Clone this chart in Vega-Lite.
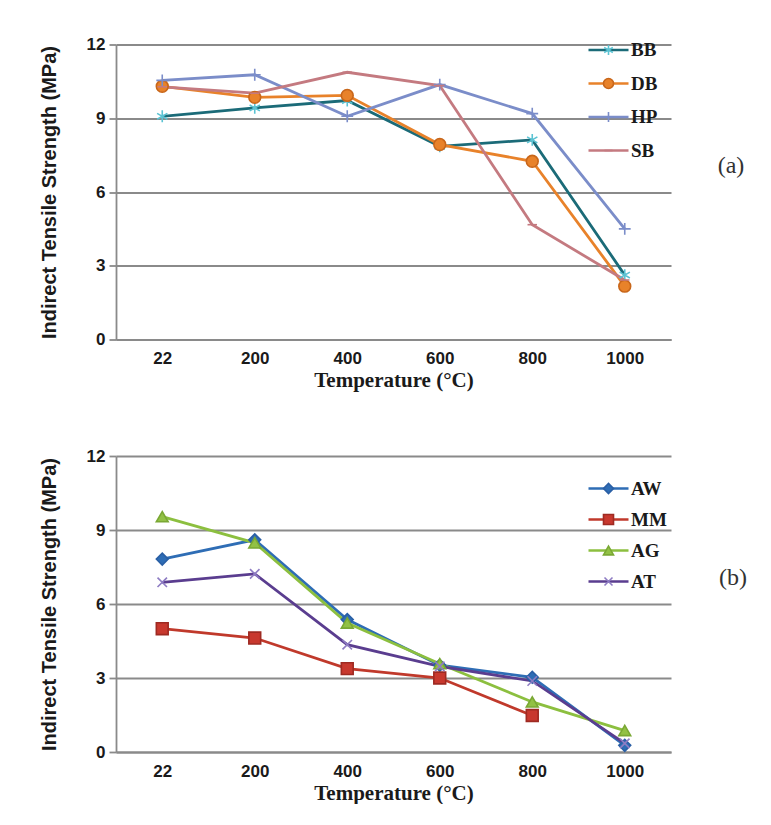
{
  "$schema": "https://vega.github.io/schema/vega-lite/v6.json",
  "padding": {"left": 39, "top": 35.5, "right": 0, "bottom": 0},
  "spacing": 56.5,
  "background": "white",
  "config": {
    "view": {"stroke": null},
    "axis": {
      "domainColor": "#8a8a8a", "domainWidth": 1.8,
      "gridColor": "#8a8a8a", "gridWidth": 1.8,
      "tickColor": "#8a8a8a", "tickWidth": 1.8,
      "labelColor": "#1a1a1a", "titleColor": "#1a1a1a",
      "labelFont": "Liberation Sans", "labelFontWeight": "bold", "labelFontSize": 17
    },
    "axisX": {"ticks": false, "grid": false, "labelPadding": 11, "labelAngle": 0,
      "titleFont": "Liberation Serif", "titleFontSize": 21, "titleFontWeight": "bold", "titlePadding": 3},
    "axisY": {"tickSize": 7, "labelPadding": 4,
      "titleFont": "Liberation Sans", "titleFontSize": 20, "titleFontWeight": "bold", "titlePadding": 27},
    "legend": {"labelFont": "Liberation Serif", "labelFontWeight": "bold", "labelFontSize": 19, "labelColor": "#1a1a1a",
      "padding": 0, "title": null, "direction": "vertical"}
  },
  "datasets": {
    "a": [
      {"temp": 22, "series": "BB", "its": 9.08}, {"temp": 200, "series": "BB", "its": 9.42}, {"temp": 400, "series": "BB", "its": 9.72},
      {"temp": 600, "series": "BB", "its": 7.86}, {"temp": 800, "series": "BB", "its": 8.12}, {"temp": 1000, "series": "BB", "its": 2.62},
      {"temp": 22, "series": "DB", "its": 10.3}, {"temp": 200, "series": "DB", "its": 9.85}, {"temp": 400, "series": "DB", "its": 9.93},
      {"temp": 600, "series": "DB", "its": 7.93}, {"temp": 800, "series": "DB", "its": 7.25}, {"temp": 1000, "series": "DB", "its": 2.17},
      {"temp": 22, "series": "HP", "its": 10.54}, {"temp": 200, "series": "HP", "its": 10.77}, {"temp": 400, "series": "HP", "its": 9.08},
      {"temp": 600, "series": "HP", "its": 10.37}, {"temp": 800, "series": "HP", "its": 9.19}, {"temp": 1000, "series": "HP", "its": 4.5},
      {"temp": 22, "series": "SB", "its": 10.28}, {"temp": 200, "series": "SB", "its": 10.02}, {"temp": 400, "series": "SB", "its": 10.87},
      {"temp": 600, "series": "SB", "its": 10.33}, {"temp": 800, "series": "SB", "its": 4.67}, {"temp": 1000, "series": "SB", "its": 2.42}
    ],
    "b": [
      {"temp": 22, "series": "AW", "its": 7.82}, {"temp": 200, "series": "AW", "its": 8.6}, {"temp": 400, "series": "AW", "its": 5.37},
      {"temp": 600, "series": "AW", "its": 3.52}, {"temp": 800, "series": "AW", "its": 3.03}, {"temp": 1000, "series": "AW", "its": 0.27},
      {"temp": 22, "series": "MM", "its": 5.0}, {"temp": 200, "series": "MM", "its": 4.62}, {"temp": 400, "series": "MM", "its": 3.38},
      {"temp": 600, "series": "MM", "its": 3.0}, {"temp": 800, "series": "MM", "its": 1.48},
      {"temp": 22, "series": "AG", "its": 9.54}, {"temp": 200, "series": "AG", "its": 8.48}, {"temp": 400, "series": "AG", "its": 5.23},
      {"temp": 600, "series": "AG", "its": 3.58}, {"temp": 800, "series": "AG", "its": 2.03}, {"temp": 1000, "series": "AG", "its": 0.87},
      {"temp": 22, "series": "AT", "its": 6.88}, {"temp": 200, "series": "AT", "its": 7.22}, {"temp": 400, "series": "AT", "its": 4.35},
      {"temp": 600, "series": "AT", "its": 3.47}, {"temp": 800, "series": "AT", "its": 2.88}, {"temp": 1000, "series": "AT", "its": 0.35}
    ]
  },
  "vconcat": [
    {
      "width": 555, "height": 295,
      "data": {"name": "a"},
      "title": {"text": "(a)", "orient": "right", "angle": 0, "anchor": "middle", "align": "left", "baseline": "middle",
        "offset": 20, "dy": -26, "font": "Liberation Serif", "fontSize": 24, "fontWeight": "normal", "color": "#333333"},
      "encoding": {
        "x": {"field": "temp", "type": "ordinal", "scale": {"type": "point", "padding": 0.5}, "title": "Temperature (°C)"},
        "y": {"field": "its", "type": "quantitative", "scale": {"domain": [0, 12], "nice": false},
          "axis": {"values": [0, 3, 6, 9, 12]}, "title": "Indirect Tensile Strength (MPa)"}
      },
      "layer": [
        {
          "mark": {"type": "line", "strokeWidth": 2.8},
          "encoding": {
            "color": {"field": "series", "type": "nominal",
              "scale": {"domain": ["BB", "DB", "HP", "SB"], "range": ["#1b6b78", "#e8822a", "#7b8dc9", "#c47a80"]},
              "legend": {"orient": "none", "legendX": 483, "legendY": -4,
                "symbolType": "M-4,0H4", "symbolSize": 100, "symbolStrokeWidth": 2.6, "labelOffset": 13, "rowPadding": 13.5}
            }
          }
        },
        {
          "mark": {"type": "point", "filled": true, "opacity": 1, "size": 140, "strokeWidth": 1.6},
          "encoding": {
            "fill": {"field": "series", "type": "nominal", "legend": null,
              "scale": {"range": ["#1b6b78", "#e8822a", "#7b8dc9", "#c47a80"]}},
            "stroke": {"field": "series", "type": "nominal", "legend": null,
              "scale": {"range": ["#5bc3d3", "#c8661a", "#7b8dc9", "#c47a80"]}},
            "shape": {"field": "series", "type": "nominal",
              "scale": {"range": [
                "M0,-1V1M-0.87,-0.5L0.87,0.5M-0.87,0.5L0.87,-0.5",
                "circle",
                "M0,-1V1M-1,0H1",
                "M-0.8,0H0.8"]},
              "legend": {"orient": "none", "legendX": 483, "legendY": -4,
                "symbolSize": 100, "symbolStrokeWidth": 1.6, "labelOffset": 13, "rowPadding": 13.5, "labelOpacity": 0}}
          }
        }
      ]
    },
    {
      "width": 555, "height": 296,
      "data": {"name": "b"},
      "title": {"text": "(b)", "orient": "right", "angle": 0, "anchor": "middle", "align": "left", "baseline": "middle",
        "offset": 20, "dy": -26, "font": "Liberation Serif", "fontSize": 24, "fontWeight": "normal", "color": "#333333"},
      "encoding": {
        "x": {"field": "temp", "type": "ordinal", "scale": {"type": "point", "padding": 0.5}, "title": "Temperature (°C)"},
        "y": {"field": "its", "type": "quantitative", "scale": {"domain": [0, 12], "nice": false},
          "axis": {"values": [0, 3, 6, 9, 12]}, "title": "Indirect Tensile Strength (MPa)"}
      },
      "layer": [
        {
          "mark": {"type": "line", "strokeWidth": 2.8},
          "encoding": {
            "color": {"field": "series", "type": "nominal", "sort": ["AW", "MM", "AG", "AT"],
              "scale": {"range": ["#2e6db5", "#c0392b", "#8cbf3f", "#5a3d8f"]},
              "legend": {"orient": "none", "legendX": 483, "legendY": 23,
                "symbolType": "M-4,0H4", "symbolSize": 100, "symbolStrokeWidth": 2.6, "labelOffset": 13, "rowPadding": 11}
            }
          }
        },
        {
          "mark": {"type": "point", "filled": true, "opacity": 1, "size": 140, "strokeWidth": 1.6},
          "encoding": {
            "fill": {"field": "series", "type": "nominal", "legend": null,
              "scale": {"domain": ["AW", "MM", "AG", "AT"], "range": ["#2e6db5", "#c8382e", "#92c145", "#5a3d8f"]}},
            "stroke": {"field": "series", "type": "nominal", "legend": null,
              "scale": {"domain": ["AW", "MM", "AG", "AT"], "range": ["#2a5fa5", "#9e2a22", "#7aa834", "#8e7cc3"]}},
            "shape": {"field": "series", "type": "nominal",
              "scale": {"domain": ["AW", "MM", "AG", "AT"], "range": ["diamond", "square", "triangle-up",
                "M-0.8,-0.8L0.8,0.8M-0.8,0.8L0.8,-0.8"]},
              "legend": {"orient": "none", "legendX": 483, "legendY": 23,
                "symbolSize": 100, "symbolStrokeWidth": 1.6, "labelOffset": 13, "rowPadding": 11, "labelOpacity": 0}}
          }
        }
      ]
    }
  ],
  "resolve": {
    "scale": {"color": "independent", "fill": "independent", "stroke": "independent", "shape": "independent", "x": "independent", "y": "independent"},
    "legend": {"color": "independent", "shape": "independent"}
  }
}
